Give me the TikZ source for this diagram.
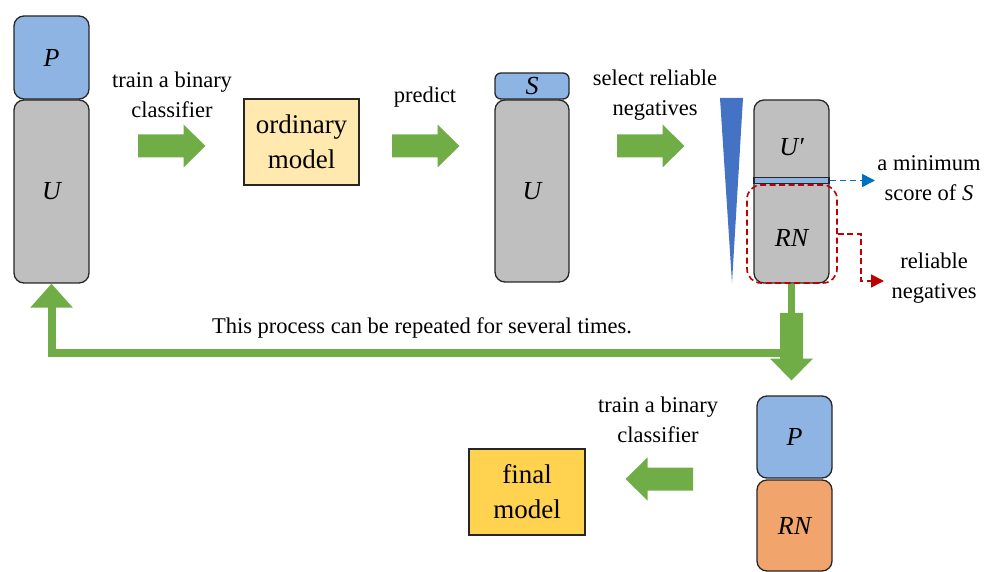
\documentclass[tikz,border=0pt]{standalone}
\usepackage{fontspec}
\setmainfont{Liberation Serif}
\usetikzlibrary{arrows.meta}
\definecolor{boxgray}{HTML}{BFBFBF}
\definecolor{boxblue}{HTML}{8EB4E3}
\definecolor{boxorange}{HTML}{F1A56D}
\definecolor{paleyellow}{HTML}{FFE9AE}
\definecolor{gold}{HTML}{FFD34F}
\definecolor{arrowgreen}{HTML}{70AD47}
\definecolor{wedgeblue}{HTML}{4472C4}
\definecolor{dashred}{HTML}{C00000}
\definecolor{dashblue}{HTML}{0070C0}
\begin{document}
\begin{tikzpicture}[x=1pt,y=-1pt,
  dataset/.style={draw=black!85, line width=1.3pt, rounded corners=10pt, inner sep=0pt,
    font=\fontsize{26}{28}\selectfont\itshape},
  graybox/.style={dataset, fill=boxgray},
  bluebox/.style={dataset, fill=boxblue},
  orangebox/.style={dataset, fill=boxorange},
  modelbox/.style={draw=black!85, line width=1.3pt, inner sep=0pt, align=center,
    font=\fontsize{27}{35}\selectfont},
  setname/.style={inner sep=0pt, font=\fontsize{26}{28}\selectfont\itshape},
  lbl/.style={inner sep=0pt, align=center, font=\fontsize{22.5}{30}\selectfont},
  greenline/.style={draw=arrowgreen, line width=8pt},
  reddash/.style={draw=dashred, line width=1.6pt, dash pattern=on 6pt off 3.5pt},
  bluedash/.style={draw=dashblue, line width=1.6pt, dash pattern=on 6pt off 4pt},
  fatarrow/.pic={\fill[arrowgreen] (0,-11.5) -- (45.5,-11.5) -- (45.5,-21.5) -- (67.5,0)
    -- (45.5,21.5) -- (45.5,11.5) -- (0,11.5) -- cycle;}
]
\useasboundingbox (0,0) rectangle (986,572);

% first stage: P and U
\node[bluebox, minimum width=75, minimum height=83] (p1) at (51.5,57.5) {P};
\node[graybox, minimum width=75, minimum height=183] (u1) at (51.5,191.5) {U};
\node[lbl] (train1) at (172,95) {train a binary\\classifier};
\pic (arr1) at (138,146) {fatarrow};
\node[modelbox, fill=paleyellow, minimum width=115, minimum height=86] (ordinary) at (301.5,142) {ordinary\\model};

% prediction
\node[lbl] (predict) at (425,97) {predict};
\pic (arr2) at (392,146) {fatarrow};
\node[bluebox, rounded corners=6pt, minimum width=74, minimum height=26] (s) at (532,86) {S};
\node[graybox, minimum width=74, minimum height=182] (u2) at (532,191) {U};

% selection of reliable negatives
\node[lbl] (select) at (655,95) {select reliable\\negatives};
\pic (arr3) at (617,146) {fatarrow};
\fill[wedgeblue] (720,98) -- (743,98) -- (732,283) -- cycle;
\node[graybox, minimum width=75, minimum height=183] (ur) at (791.5,191.5) {};
\node[draw=black!85, line width=1.2pt, fill=boxblue, minimum width=75, minimum height=5.5, inner sep=0pt] (band) at (791.5,180.5) {};
\node[setname] (uprime) at (791.5,147) {U′};
\node[setname] (rn) at (791.5,238) {RN};
\node[reddash, rounded corners=14pt, minimum width=90, minimum height=98, inner sep=0pt] (rnsel) at (792,234) {};

\coordinate (minend) at (875,180.5);
\draw[bluedash, -{Triangle[length=13pt,width=13pt]}] (band.east) -- (minend);
\node[lbl] (minscore) at (929,178) {a minimum\\score of \textit{S}};

\coordinate (rnend) at (884,281);
\draw[reddash, -{Triangle[length=13pt,width=13pt]}] (rnsel.east) -- ++(23,0) |- (rnend);
\node[lbl] (reliable) at (934,278) {reliable\\negatives};

% feedback loop
\draw[draw=arrowgreen, line width=7pt] (ur.south) -- ++(0,31);
\pic[rotate=-90] (down) at (791.5,313) {fatarrow};
\coordinate (loopstart) at (791.5,353);
\draw[greenline, -{Triangle[length=24pt,width=41pt]}] (loopstart) -| (u1.south);
\node[lbl] (repeat) at (422,328) {This process can be repeated for several times.};

% final stage
\node[bluebox, minimum width=75, minimum height=82] (p3) at (794.5,437) {P};
\node[orangebox, minimum width=75, minimum height=91] (rn3) at (794.5,525.5) {RN};
\node[lbl] (train2) at (658,420) {train a binary\\classifier};
\pic[rotate=180] (arr4) at (693,479) {fatarrow};
\node[modelbox, fill=gold, minimum width=116, minimum height=86] (final) at (527,492) {final\\model};
\end{tikzpicture}
\end{document}
